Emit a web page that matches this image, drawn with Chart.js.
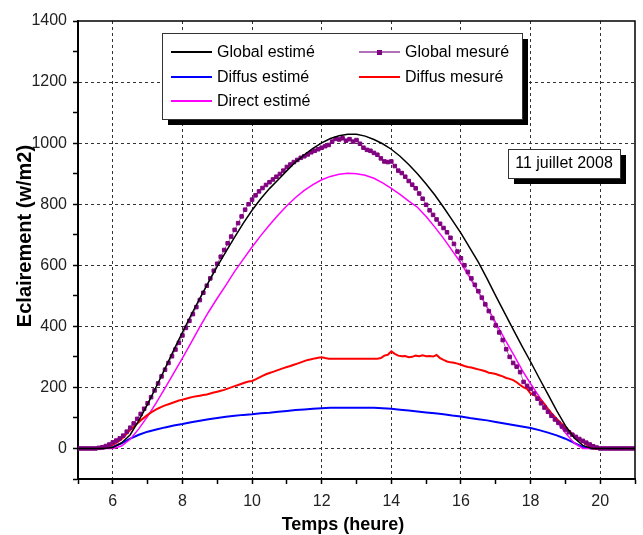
<!DOCTYPE html>
<html>
<head>
<meta charset="utf-8">
<title>Eclairement - 11 juillet 2008</title>
<script src="https://cdn.jsdelivr.net/npm/chart.js@4.4.1/dist/chart.umd.min.js"></script>
<style>
  body { margin: 0; background: #fff; }
  #chart { display: block; }
</style>
</head>
<body>
<canvas id="chart" width="643" height="535"></canvas>
<script>
// hours for the estimated (model) curves, every 15 min
const estHours = [
  5, 5.25, 5.5, 5.75, 6, 6.25, 6.5, 6.75, 7, 7.25, 7.5, 7.75, 8, 8.25, 8.5, 8.75,
  9, 9.25, 9.5, 9.75, 10, 10.25, 10.5, 10.75, 11, 11.25, 11.5, 11.75, 12, 12.25, 12.5, 12.75,
  13, 13.25, 13.5, 13.75, 14, 14.25, 14.5, 14.75, 15, 15.25, 15.5, 15.75, 16, 16.25, 16.5, 16.75,
  17, 17.25, 17.5, 17.75, 18, 18.25, 18.5, 18.75, 19, 19.25, 19.5, 19.75, 20, 20.25, 20.5, 20.75, 21
];
const globalEstime = [
  0, 0, 0, 0, 3, 18, 45, 92, 145, 203, 262, 322, 380, 437, 492, 545,
  596, 645, 692, 738, 780, 818, 851, 880, 910, 938, 962, 983, 1001, 1015, 1024, 1029,
  1029, 1023, 1012, 998, 980, 957, 930, 900, 866, 830, 790, 748, 705, 658, 610, 556,
  500, 445, 390, 336, 284, 230, 177, 124, 75, 35, 10, 0, 0, 0, 0, 0, 0
];
const diffusEstime = [
  0, 0, 0, 1, 5, 17, 32, 45, 55, 62, 69, 75, 80, 86, 91, 96,
  100, 104, 107, 110, 112, 115, 117, 120, 123, 126, 128, 130, 132, 133, 133, 133,
  133, 133, 133, 132, 130, 127, 124, 121, 118, 115, 112, 108, 105, 100, 96, 92,
  87, 82, 77, 72, 67, 60, 52, 43, 32, 18, 5, 0, 0, 0, 0, 0, 0
];
const directEstime = [
  0, 0, 0, 0, 0, 8, 30, 65, 105, 150, 198, 247, 296, 347, 398, 447,
  492, 535, 580, 620, 660, 697, 732, 765, 795, 822, 845, 864, 880, 891, 898, 901,
  900, 895, 885, 870, 852, 832, 810, 790, 760, 725, 688, 648, 607, 560, 513, 463,
  412, 360, 310, 258, 212, 170, 128, 88, 51, 18, 0, 0, 0, 0, 0, 0, 0
];

// hours for the measured series, every 6 min
const mesHours = [
  5.0, 5.1, 5.2, 5.3, 5.4, 5.5, 5.6, 5.7, 5.8, 5.9,
  6.0, 6.1, 6.2, 6.3, 6.4, 6.5, 6.6, 6.7, 6.8, 6.9,
  7.0, 7.1, 7.2, 7.3, 7.4, 7.5, 7.6, 7.7, 7.8, 7.9,
  8.0, 8.1, 8.2, 8.3, 8.4, 8.5, 8.6, 8.7, 8.8, 8.9,
  9.0, 9.1, 9.2, 9.3, 9.4, 9.5, 9.6, 9.7, 9.8, 9.9,
  10.0, 10.1, 10.2, 10.3, 10.4, 10.5, 10.6, 10.7, 10.8, 10.9,
  11.0, 11.1, 11.2, 11.3, 11.4, 11.5, 11.6, 11.7, 11.8, 11.9,
  12.0, 12.1, 12.2, 12.3, 12.4, 12.5, 12.6, 12.7, 12.8, 12.9,
  13.0, 13.1, 13.2, 13.3, 13.4, 13.5, 13.6, 13.7, 13.8, 13.9,
  14.0, 14.1, 14.2, 14.3, 14.4, 14.5, 14.6, 14.7, 14.8, 14.9,
  15.0, 15.1, 15.2, 15.3, 15.4, 15.5, 15.6, 15.7, 15.8, 15.9,
  16.0, 16.1, 16.2, 16.3, 16.4, 16.5, 16.6, 16.7, 16.8, 16.9,
  17.0, 17.1, 17.2, 17.3, 17.4, 17.5, 17.6, 17.7, 17.8, 17.9,
  18.0, 18.1, 18.2, 18.3, 18.4, 18.5, 18.6, 18.7, 18.8, 18.9,
  19.0, 19.1, 19.2, 19.3, 19.4, 19.5, 19.6, 19.7, 19.8, 19.9,
  20.0, 20.1, 20.2, 20.3, 20.4, 20.5, 20.6, 20.7, 20.8, 20.9, 21.0
];
const globalMesure = [
  0, 0, 0, 0, 0, 0, 2, 4, 8, 13,
  20, 26, 33, 42, 55, 68, 82, 97, 113, 130,
  148, 168, 190, 213, 236, 258, 280, 302, 324, 346,
  370, 395, 418, 440, 463, 486, 510, 533, 557, 582,
  605, 628, 650, 672, 694, 716, 738, 760, 782, 800,
  815, 829, 842, 853, 863, 872, 881, 890, 899, 910,
  922, 930, 938, 945, 952, 957, 963, 970, 975, 980,
  985, 990, 994, 1005, 1014, 1012, 1016, 1008, 1013, 1005,
  1010, 998, 985, 978, 975, 968, 962, 950, 940, 938,
  940, 925, 910, 902, 890, 876, 864, 852, 835, 818,
  798, 780, 765, 750, 736, 722, 708, 690, 670, 645,
  623, 600, 578, 557, 536, 515, 494, 472, 450, 427,
  403, 380, 355, 325, 300, 280, 268, 250, 218, 205,
  195, 180, 163, 148, 134, 120, 107, 95, 84, 72,
  62, 53, 45, 38, 31, 25, 19, 13, 7, 3,
  0, 0, 0, 0, 0, 0, 0, 0, 0, 0, 0
];
const diffusMesure = [
  0, 0, 0, 0, 0, 0, 0, 0, 3, 7,
  12, 18, 26, 36, 48, 60, 71, 82, 92, 101,
  110, 118, 125, 131, 136, 141, 145, 149, 153, 157,
  160, 163, 166, 169, 171, 173, 175, 177, 180, 183,
  186, 189, 192, 196, 200, 204, 208, 212, 216, 219,
  221, 226, 232, 238, 243, 247, 251, 255, 259, 263,
  267, 270, 274, 278, 282, 286, 290, 292, 295, 297,
  299, 296, 294, 294, 294, 294, 294, 294, 294, 294,
  294, 294, 294, 294, 294, 294, 294, 296, 304, 307,
  318, 310, 304, 302, 303, 299, 300, 304, 302, 305,
  302, 303, 301, 306, 296, 290, 285, 282, 281, 278,
  274, 270, 267, 265, 262, 259, 256, 253, 248, 246,
  244, 240, 236, 231, 228, 224, 217, 208, 200, 195,
  180, 175, 168, 158, 145, 130, 116, 103, 91, 80,
  69, 58, 48, 38, 29, 21, 13, 6, 0, 0,
  0, 0, 0, 0, 0, 0, 0, 0, 0, 0, 0
];

const seriesLabels = ['Global estimé', 'Global mesuré', 'Diffus estimé', 'Diffus mesuré', 'Direct estimé'];

// axis ticks
const xTicks = [5, 6, 7, 8, 9, 10, 11, 12, 13, 14, 15, 16, 17, 18, 19, 20, 21];
const xLabels = [6, 8, 10, 12, 14, 16, 18, 20];
const yTicks = [-100, 0, 100, 200, 300, 400, 500, 600, 700, 800, 900, 1000, 1100, 1200, 1300, 1400];
const yLabels = [0, 200, 400, 600, 800, 1000, 1200, 1400];
const xGrid = [6, 8, 10, 12, 14, 16, 18, 20];
const yGrid = [0, 200, 400, 600, 800, 1000, 1200];

const dateLabel = '11 juillet 2008';

function points(hours, values) {
  return hours.map((h, i) => ({ x: h, y: values[i] }));
}

const tickFont = { family: '"Liberation Sans Narrow", "Liberation Sans", Arial, sans-serif', size: 16 };

function drawShadowBox(ctx, x, y, w, h) {
  ctx.fillStyle = '#000';
  ctx.fillRect(x + 6, y + 6, w, h);
  ctx.fillStyle = '#fff';
  ctx.fillRect(x, y, w, h);
  ctx.strokeStyle = '#333';
  ctx.lineWidth = 1;
  ctx.strokeRect(x + 0.5, y + 0.5, w, h);
}

// frame, legend, date box and axis titles
const decorPlugin = {
  id: 'decor',
  afterDraw(chart) {
    const ctx = chart.ctx;
    const a = chart.chartArea;
    const ds = chart.data.datasets;
    ctx.save();

    ctx.strokeStyle = '#000';
    ctx.lineWidth = 1.5;
    ctx.beginPath();
    ctx.moveTo(a.left, a.top);
    ctx.lineTo(a.right, a.top);
    ctx.lineTo(a.right, a.bottom);
    ctx.stroke();

    // legend
    drawShadowBox(ctx, 162, 33, 360, 86);
    const cells = [[0, 0, 0], [1, 1, 0], [2, 0, 1], [3, 1, 1], [4, 0, 2]];
    const colX = [171, 359];
    const rowY = [52, 77, 101];
    ctx.font = '16px "Liberation Sans", Arial, sans-serif';
    ctx.textBaseline = 'middle';
    ctx.textAlign = 'left';
    cells.forEach(([i, c, r]) => {
      const x = colX[c], y = rowY[r];
      ctx.strokeStyle = ds[i].borderColor;
      ctx.lineWidth = 2;
      ctx.beginPath();
      ctx.moveTo(x, y);
      ctx.lineTo(x + 41, y);
      ctx.stroke();
      if (ds[i].pointRadius > 0) {
        ctx.fillStyle = ds[i].pointBackgroundColor;
        ctx.fillRect(x + 18, y - 2, 5, 5);
      }
      ctx.fillStyle = '#000';
      ctx.fillText(ds[i].label, x + 46, y + 1);
    });

    // date box
    drawShadowBox(ctx, 508, 149, 112, 29);
    ctx.fillStyle = '#000';
    ctx.textAlign = 'center';
    ctx.fillText(dateLabel, 564, 164);

    // axis titles
    ctx.font = 'bold 20px "Liberation Sans", Arial, sans-serif';
    ctx.save();
    ctx.translate(25, 236);
    ctx.rotate(-Math.PI / 2);
    ctx.fillText('Eclairement (w/m2)', 0, 0);
    ctx.restore();
    ctx.font = 'bold 18px "Liberation Sans", Arial, sans-serif';
    ctx.fillText('Temps (heure)', 343, 525);

    ctx.restore();
  }
};

const chart = new Chart(document.getElementById('chart'), {
  type: 'line',
  data: {
    datasets: [{
      label: seriesLabels[0],
      data: points(estHours, globalEstime),
      borderColor: '#000000',
      borderWidth: 1.5,
      pointRadius: 0,
      order: 0
    }, {
      label: seriesLabels[1],
      data: points(mesHours, globalMesure),
      borderColor: '#b070b8',
      borderWidth: 1,
      pointStyle: 'rect',
      pointRadius: 2.5,
      pointBorderWidth: 1,
      pointBackgroundColor: '#800080',
      pointBorderColor: '#800080',
      order: 1
    }, {
      label: seriesLabels[2],
      data: points(estHours, diffusEstime),
      borderColor: '#0000ff',
      borderWidth: 2,
      pointRadius: 0,
      order: 4
    }, {
      label: seriesLabels[3],
      data: points(mesHours, diffusMesure),
      borderColor: '#ff0000',
      borderWidth: 2,
      pointRadius: 0,
      order: 2
    }, {
      label: seriesLabels[4],
      data: points(estHours, directEstime),
      borderColor: '#ff00ff',
      borderWidth: 1.5,
      pointRadius: 0,
      order: 3
    }]
  },
  options: {
    responsive: false,
    animation: false,
    layout: { padding: { top: 21, right: 8, left: 0, bottom: 0 } },
    plugins: {
      legend: { display: false },
      tooltip: { enabled: false }
    },
    scales: {
      x: {
        type: 'linear',
        min: 5,
        max: 21,
        afterBuildTicks: axis => { axis.ticks = xTicks.map(v => ({ value: v })); },
        afterFit: axis => { axis.height = 56; },
        ticks: {
          autoSkip: false,
          maxRotation: 0,
          padding: 8,
          color: '#222',
          font: tickFont,
          callback: v => xLabels.includes(v) ? String(v) : ''
        },
        grid: {
          color: c => xGrid.includes(c.tick.value) ? '#333' : 'rgba(0,0,0,0)',
          lineWidth: 1,
          tickLength: 5,
          tickColor: '#000',
          tickWidth: 1.5
        },
        border: { display: true, color: '#000', width: 2, dash: [3, 3] }
      },
      y: {
        min: -100,
        max: 1400,
        afterBuildTicks: axis => { axis.ticks = yTicks.map(v => ({ value: v })); },
        afterFit: axis => { axis.width = 78; },
        ticks: {
          autoSkip: false,
          padding: 6,
          color: '#222',
          font: tickFont,
          callback: v => yLabels.includes(v) ? String(v) : ''
        },
        grid: {
          color: c => yGrid.includes(c.tick.value) ? '#333' : 'rgba(0,0,0,0)',
          lineWidth: 1,
          tickLength: 5,
          tickColor: '#000',
          tickWidth: 1.5
        },
        border: { display: true, color: '#000', width: 2, dash: [3, 3] }
      }
    }
  },
  plugins: [decorPlugin]
});
</script>
</body>
</html>
